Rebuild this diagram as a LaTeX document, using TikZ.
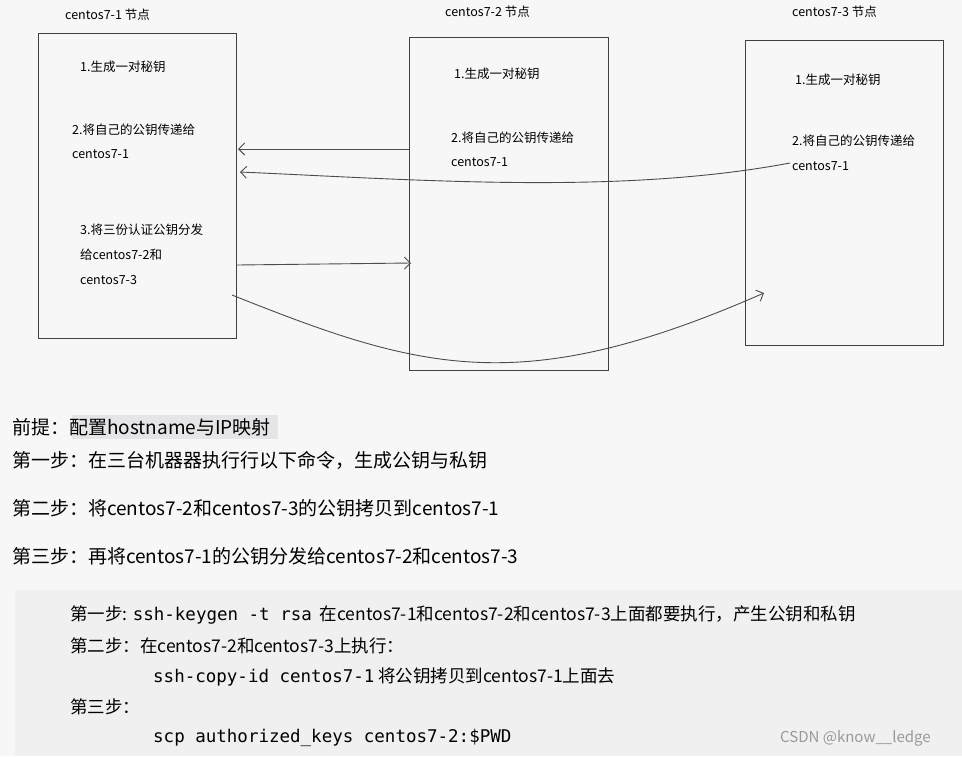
\documentclass[tikz,border=0pt]{standalone}
\usepackage{fontspec}
\setmainfont{Noto Sans CJK SC}
\newfontfamily\cjk{Noto Sans CJK SC}
\newfontfamily\mono{DejaVu Sans Mono}
\usetikzlibrary{arrows.meta}
\tikzset{
  hostbox/.style={draw=black!75,line width=0.9pt},
  lbl/.style={anchor=west,inner sep=0pt,font=\fontsize{12.5}{14}\selectfont},
  big/.style={anchor=west,inner sep=0pt,font=\fontsize{19}{21}\selectfont},
  code/.style={anchor=west,inner sep=0pt,font=\fontsize{17.5}{19}\selectfont},
  conn/.style={draw=black!70,line width=0.9pt,-{Straight Barb[length=6pt,width=12pt]}}
}
\begin{document}
\begin{tikzpicture}[x=1pt,y=-1pt]
\fill[black!3] (0,0) rectangle (962,756);
\useasboundingbox (0,0) rectangle (962,756);
\fill[black!6] (15,590) rectangle (962,756);
% boxes
\draw[hostbox] (38,33) rectangle (236,338);
\draw[hostbox] (409,37) rectangle (608,370);
\draw[hostbox] (745,40) rectangle (943,345);
\coordinate (b1r1) at (238,149);
\coordinate (b2l1) at (409,149);
\coordinate (b1r2) at (240,172);
\coordinate (b3s) at (790,163);
\coordinate (b1r3) at (237,265);
\coordinate (b2l3) at (411,263);
\coordinate (b1r4) at (232,295);
\coordinate (b3l4) at (764,293);
% titles
\node[lbl] (t1) at (65,15) {centos7-1 节点};
\node[lbl] (t2) at (445,12) {centos7-2 节点};
\node[lbl] (t3) at (792,12) {centos7-3 节点};
% box texts
\node[lbl] (a1) at (80,67) {1.生成一对秘钥};
\node[lbl] (a2) at (72,130) {2.将自己的公钥传递给};
\node[lbl] (a3) at (72,154) {centos7-1};
\node[lbl] (a4) at (80,230) {3.将三份认证公钥分发};
\node[lbl] (a5) at (80,255) {给centos7-2和};
\node[lbl] (a6) at (80,280) {centos7-3};
\node[lbl] (c1) at (454,74) {1.生成一对秘钥};
\node[lbl] (c2) at (451,138) {2.将自己的公钥传递给};
\node[lbl] (c3) at (451,162) {centos7-1};
\node[lbl] (d1) at (795,80) {1.生成一对秘钥};
\node[lbl] (d2) at (792,141) {2.将自己的公钥传递给};
\node[lbl] (d3) at (792,166) {centos7-1};
% connectors
\draw[conn] (b2l1) -- (b1r1);
\draw[conn] (b3s) .. controls (620,195) and (420,180) .. (b1r2);
\draw[conn] (b1r3) -- (b2l3);
\draw[conn] (b1r4) .. controls (420,370) and (520,400) .. (b3l4);
% bottom text
\fill[blue!8!black!10] (72,415) rectangle (278,439);
\node[big] (p0) at (12,427) {前提：配置hostname与IP映射};
\node[big] (p1) at (12,460) {第一步：在三台机器器执行行以下命令，生成公钥与私钥};
\node[big] (p2) at (12,508) {第二步：将centos7-2和centos7-3的公钥拷贝到centos7-1};
\node[big] (p3) at (12,556) {第三步：再将centos7-1的公钥分发给centos7-2和centos7-3};
% code block
\node[code] (k1) at (70,615) {第一步: {\mono ssh-keygen -t rsa}\ \ 在centos7-1和centos7-2和centos7-3上面都要执行，产生公钥和私钥};
\node[code] (k2) at (70,646) {第二步：在centos7-2和centos7-3上执行：};
\node[code] (k3) at (153,677) {{\mono ssh-copy-id centos7-1} 将公钥拷贝到centos7-1上面去};
\node[code] (k4) at (70,707) {第三步：};
\node[code] (k5) at (153,738) {\mono scp authorized\_keys centos7-2:\$PWD};
\node[code,text=black!40,font=\fontsize{15}{17}\selectfont] (wm) at (780,738) {CSDN @know\_\_ledge};
\end{tikzpicture}
\end{document}
